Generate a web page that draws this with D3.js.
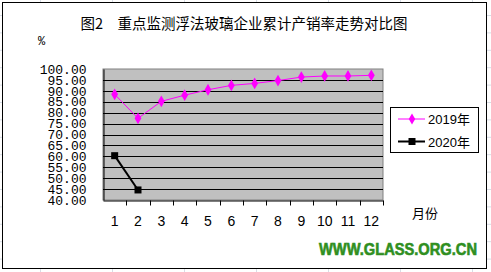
<!DOCTYPE html>
<html>
<head>
<meta charset="utf-8">
<script src="https://cdn.jsdelivr.net/npm/d3@7"></script>
<style>
  html, body { margin: 0; padding: 0; background: #fff; }
  svg { display: block; }
</style>
</head>
<body>
<svg id="chart" width="491" height="272"></svg>
<script>
var months = ['1', '2', '3', '4', '5', '6', '7', '8', '9', '10', '11', '12'];
var sales2019 = [88.4, 77.4, 85.2, 88.0, 90.5, 92.5, 93.4, 94.7, 96.3, 96.8, 96.8, 97.1];
var sales2020 = [60.3, 44.6];
var yTicks = [40, 45, 50, 55, 60, 65, 70, 75, 80, 85, 90, 95, 100];
var seriesNames = ['2019年', '2020年'];

var W = 491, H = 272,
	plot = { left: 103, right: 383, top: 69, bottom: 200 };

var svg = d3.select('#chart');

// faint spreadsheet cells behind the chart object
var cells = svg.append('g').attr('stroke', '#d8dde6').attr('stroke-width', 1);
for (var cx = 40.5; cx < W; cx += 72) {
	cells.append('line').attr('x1', cx).attr('x2', cx).attr('y1', 0).attr('y2', H);
}
for (var cy = 15.5; cy < H; cy += 17.4) {
	cells.append('line').attr('x1', 0).attr('x2', W).attr('y1', cy).attr('y2', cy);
}

// chart frame
svg.append('rect')
	.attr('x', 2.5).attr('y', 2.5)
	.attr('width', 484).attr('height', 266)
	.attr('fill', '#fff').attr('stroke', '#000');

svg.append('text')
	.attr('x', 244).attr('y', 29)
	.attr('text-anchor', 'middle')
	.attr('font-family', '"Noto Sans CJK SC", sans-serif')
	.attr('font-size', 14.5)
	.text('图2　重点监测浮法玻璃企业累计产销率走势对比图');

svg.append('text')
	.attr('x', 38).attr('y', 45)
	.attr('font-family', '"Liberation Mono", monospace')
	.attr('font-size', 12)
	.text('%');

var x = d3.scaleBand().domain(months).range([plot.left, plot.right]);
var y = d3.scaleLinear().domain([40, 100]).range([plot.bottom, plot.top]);

svg.append('rect')
	.attr('x', plot.left).attr('y', plot.top)
	.attr('width', plot.right - plot.left).attr('height', plot.bottom - plot.top)
	.attr('fill', '#c0c0c0').attr('stroke', '#808080');

// grid lines
svg.append('g')
	.selectAll('line')
	.data(yTicks.filter(function(d) { return d > 40 && d < 100; }))
	.enter().append('line')
	.attr('x1', plot.left).attr('x2', plot.right)
	.attr('y1', function(d) { return Math.round(y(d)) + 0.5; })
	.attr('y2', function(d) { return Math.round(y(d)) + 0.5; })
	.attr('stroke', '#000');

// value axis (labels are packed tightly, as in the original)
var yAxis = svg.append('g')
	.attr('transform', 'translate(' + (plot.left + 0.5) + ',0)')
	.call(d3.axisLeft(y).tickValues(yTicks).tickSize(0).tickPadding(17)
		.tickFormat(d3.format('.2f')));
yAxis.select('.domain').attr('stroke', '#000');
yAxis.selectAll('text')
	.attr('font-family', '"Liberation Mono", monospace')
	.attr('font-size', 13)
	.attr('fill', '#000');

// category axis
var xAxis = svg.append('g')
	.attr('transform', 'translate(0,' + (plot.bottom + 0.5) + ')')
	.call(d3.axisBottom(x).tickSize(0).tickPadding(16));
xAxis.select('.domain').attr('stroke', '#000');
xAxis.selectAll('text')
	.attr('font-family', '"Liberation Sans", sans-serif')
	.attr('font-size', 14)
	.attr('fill', '#000');
xAxis.selectAll('.boundary')
	.data(months)
	.enter().append('line')
	.attr('class', 'boundary')
	.attr('x1', function(d) { return Math.round(x(d) + x.bandwidth()) + 0.5; })
	.attr('x2', function(d) { return Math.round(x(d) + x.bandwidth()) + 0.5; })
	.attr('y1', 0).attr('y2', 5)
	.attr('stroke', '#000');

svg.append('text')
	.attr('x', 412).attr('y', 218)
	.attr('font-family', '"Noto Sans CJK SC", sans-serif')
	.attr('font-size', 13)
	.text('月份');

var line = d3.line()
	.x(function(d, i) { return x(months[i]) + x.bandwidth() / 2; })
	.y(function(d) { return y(d); });

svg.append('path')
	.datum(sales2019)
	.attr('d', line)
	.attr('fill', 'none')
	.attr('stroke', '#ff00ff')
	.attr('stroke-width', 1);

svg.append('g')
	.selectAll('path')
	.data(sales2019)
	.enter().append('path')
	.attr('d', d3.symbol(d3.symbolDiamond, 40))
	.attr('transform', function(d, i) {
		return 'translate(' + (x(months[i]) + x.bandwidth() / 2) + ',' + y(d) + ')';
	})
	.attr('fill', '#ff00ff');

svg.append('path')
	.datum(sales2020)
	.attr('d', line)
	.attr('fill', 'none')
	.attr('stroke', '#000')
	.attr('stroke-width', 2);

svg.append('g')
	.selectAll('rect')
	.data(sales2020)
	.enter().append('rect')
	.attr('x', function(d, i) { return x(months[i]) + x.bandwidth() / 2 - 3.5; })
	.attr('y', function(d) { return y(d) - 3.5; })
	.attr('width', 7).attr('height', 7)
	.attr('fill', '#000');

// legend
var legend = svg.append('g');
legend.append('rect')
	.attr('x', 390.5).attr('y', 107.5)
	.attr('width', 88).attr('height', 45)
	.attr('fill', '#fff').attr('stroke', '#000');

var item = legend.selectAll('.item')
	.data(seriesNames)
	.enter().append('g')
	.attr('class', 'item')
	.attr('transform', function(d, i) { return 'translate(0,' + (119 + i * 22.5) + ')'; });

item.append('line')
	.attr('x1', 398).attr('x2', 425)
	.attr('stroke', function(d, i) { return i ? '#000' : '#ff00ff'; })
	.attr('stroke-width', function(d, i) { return i ? 2 : 1; });

item.append('path')
	.attr('d', function(d, i) {
		return d3.symbol(i ? d3.symbolSquare : d3.symbolDiamond, i ? 49 : 36)();
	})
	.attr('transform', 'translate(412,0)')
	.attr('fill', function(d, i) { return i ? '#000' : '#ff00ff'; });

item.append('text')
	.attr('x', 428).attr('y', 5)
	.attr('font-family', '"Liberation Sans", "Noto Sans CJK SC", sans-serif')
	.attr('font-size', 13)
	.text(function(d) { return d; });

svg.append('text')
	.attr('x', 319).attr('y', 255)
	.attr('font-family', '"Liberation Sans", sans-serif')
	.attr('font-size', 16)
	.attr('font-weight', 'bold')
	.attr('fill', '#2f8f1f')
	.attr('stroke', '#2f8f1f')
	.attr('stroke-width', 0.6)
	.attr('textLength', 158)
	.attr('lengthAdjust', 'spacingAndGlyphs')
	.text('WWW.GLASS.ORG.CN');
</script>
</body>
</html>
